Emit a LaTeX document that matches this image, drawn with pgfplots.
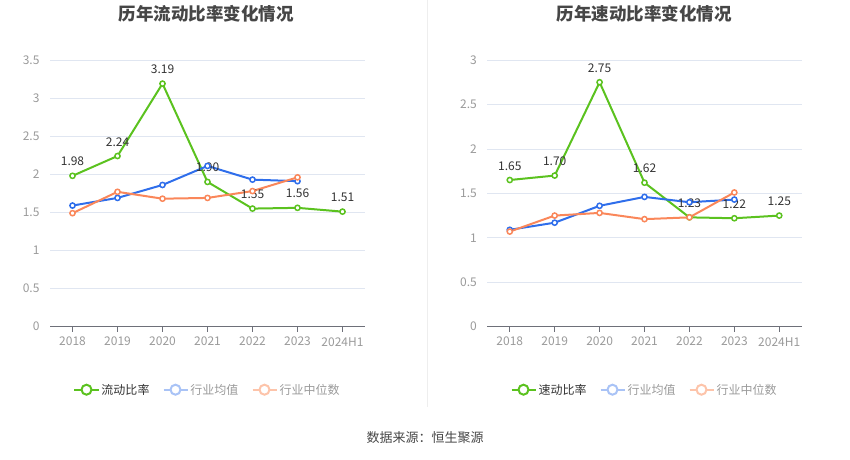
\documentclass[border=0pt]{standalone}
\usepackage{fontspec}
\setmainfont{Noto Sans CJK SC}
\usepackage{pgfplots}
\pgfplotsset{compat=1.18}
\definecolor{cgreen}{HTML}{5BC21F}
\definecolor{cblue}{HTML}{2F6EEB}
\definecolor{corange}{HTML}{FA875A}
\definecolor{lblue}{HTML}{A9C3F6}
\definecolor{lorange}{HTML}{FDC4AA}
\definecolor{gridc}{HTML}{E0E6F1}
\definecolor{axisc}{HTML}{6E7079}
\definecolor{tickc}{HTML}{9A9A9A}
\definecolor{labc}{HTML}{333333}
\definecolor{titlec}{HTML}{464646}
\definecolor{sepc}{HTML}{EEEEEE}
\pgfplotsset{
  mystyle/.style={
    scale only axis, width=315pt, height=266.7pt,
    xmin=-0.5, xmax=6.5, ymin=0,
    xtick={0,...,6}, xticklabels={2018,2019,2020,2021,2022,2023,2024H1},
    axis x line*=bottom, axis y line*=left,
    x axis line style={-, color=axisc, line width=1pt},
    y axis line style={draw=none},
    ymajorgrids, grid style={color=gridc, line width=0.8pt},
    tick align=outside, major tick length=5pt,
    x tick style={color=axisc, line width=1pt},
    y tick style={draw=none},
    tick label style={font=\fontsize{12}{14}\selectfont, color=tickc},
    xticklabel style={yshift=-2pt},
    yticklabel style={xshift=-2pt},
    /pgf/number format/assume math mode=true,
    legend columns=3,
    legend style={draw=none, fill=none, font=\fontsize{12}{14}\selectfont,
      at={(0.5,0)}, yshift=-63pt, anchor=center,
      /tikz/every even column/.append style={column sep=11pt}},
    legend image code/.code={
      \draw[line width=2pt] (0pt,0pt) -- (24pt,0pt);
      \draw[line width=2pt, fill=white] (12pt,0pt) circle (5pt);
    },
    every axis plot/.append style={line width=2pt, mark=*, mark size=2.6pt,
      mark options={fill=white, line width=1.5pt}},
  },
  glab/.style={nodes near coords={\pgfmathprintnumber[fixed,fixed zerofill,precision=2,assume math mode=true]{\pgfplotspointmeta}},
    nodes near coords style={font=\fontsize{12}{14}\selectfont, color=labc, anchor=base, inner sep=0pt, yshift=10pt}},
}
\begin{document}
\begin{tikzpicture}[x=1pt,y=1pt]
\useasboundingbox (0,0) rectangle (850,459);
\draw[color=sepc, line width=1pt] (427,459) -- (427,52);
\node[font=\fontsize{17.5}{19}\selectfont\bfseries, color=titlec] at (206,445) {历年流动比率变化情况};
\node[font=\fontsize{17.5}{19}\selectfont\bfseries, color=titlec] at (644,445) {历年速动比率变化情况};
\node[font=\fontsize{13}{15}\selectfont, color=titlec] at (425,21) {数据来源：恒生聚源};

\begin{axis}[mystyle, at={(50pt,132.3pt)}, anchor=south west, ymax=3.5,
  ytick={0,0.5,...,3.5}, yticklabels={0,0.5,1,1.5,2,2.5,3,3.5}]
\addplot[color=cgreen, glab, forget plot] coordinates {(0,1.98)(1,2.24)(2,3.19)(3,1.90)(4,1.55)(5,1.56)(6,1.51)};
\addplot[color=cblue, forget plot] coordinates {(0,1.59)(1,1.69)(2,1.86)(3,2.11)(4,1.93)(5,1.91)};
\addplot[color=corange, forget plot] coordinates {(0,1.49)(1,1.77)(2,1.68)(3,1.69)(4,1.78)(5,1.96)};
\addlegendimage{color=cgreen}
\addlegendentry{\textcolor{labc}{流动比率}}
\addlegendimage{color=lblue}
\addlegendentry{\textcolor{tickc}{行业均值}}
\addlegendimage{color=lorange}
\addlegendentry{\textcolor{tickc}{行业中位数}}
\end{axis}

\begin{axis}[mystyle, at={(487.3pt,132.3pt)}, anchor=south west, width=314.4pt, ymax=3,
  ytick={0,0.5,...,3}, yticklabels={0,0.5,1,1.5,2,2.5,3}]
\addplot[color=cgreen, glab, forget plot] coordinates {(0,1.65)(1,1.70)(2,2.75)(3,1.62)(4,1.23)(5,1.22)(6,1.25)};
\addplot[color=cblue, forget plot] coordinates {(0,1.09)(1,1.17)(2,1.36)(3,1.46)(4,1.40)(5,1.43)};
\addplot[color=corange, forget plot] coordinates {(0,1.07)(1,1.25)(2,1.28)(3,1.21)(4,1.23)(5,1.51)};
\addlegendimage{color=cgreen}
\addlegendentry{\textcolor{labc}{速动比率}}
\addlegendimage{color=lblue}
\addlegendentry{\textcolor{tickc}{行业均值}}
\addlegendimage{color=lorange}
\addlegendentry{\textcolor{tickc}{行业中位数}}
\end{axis}
\end{tikzpicture}
\end{document}
